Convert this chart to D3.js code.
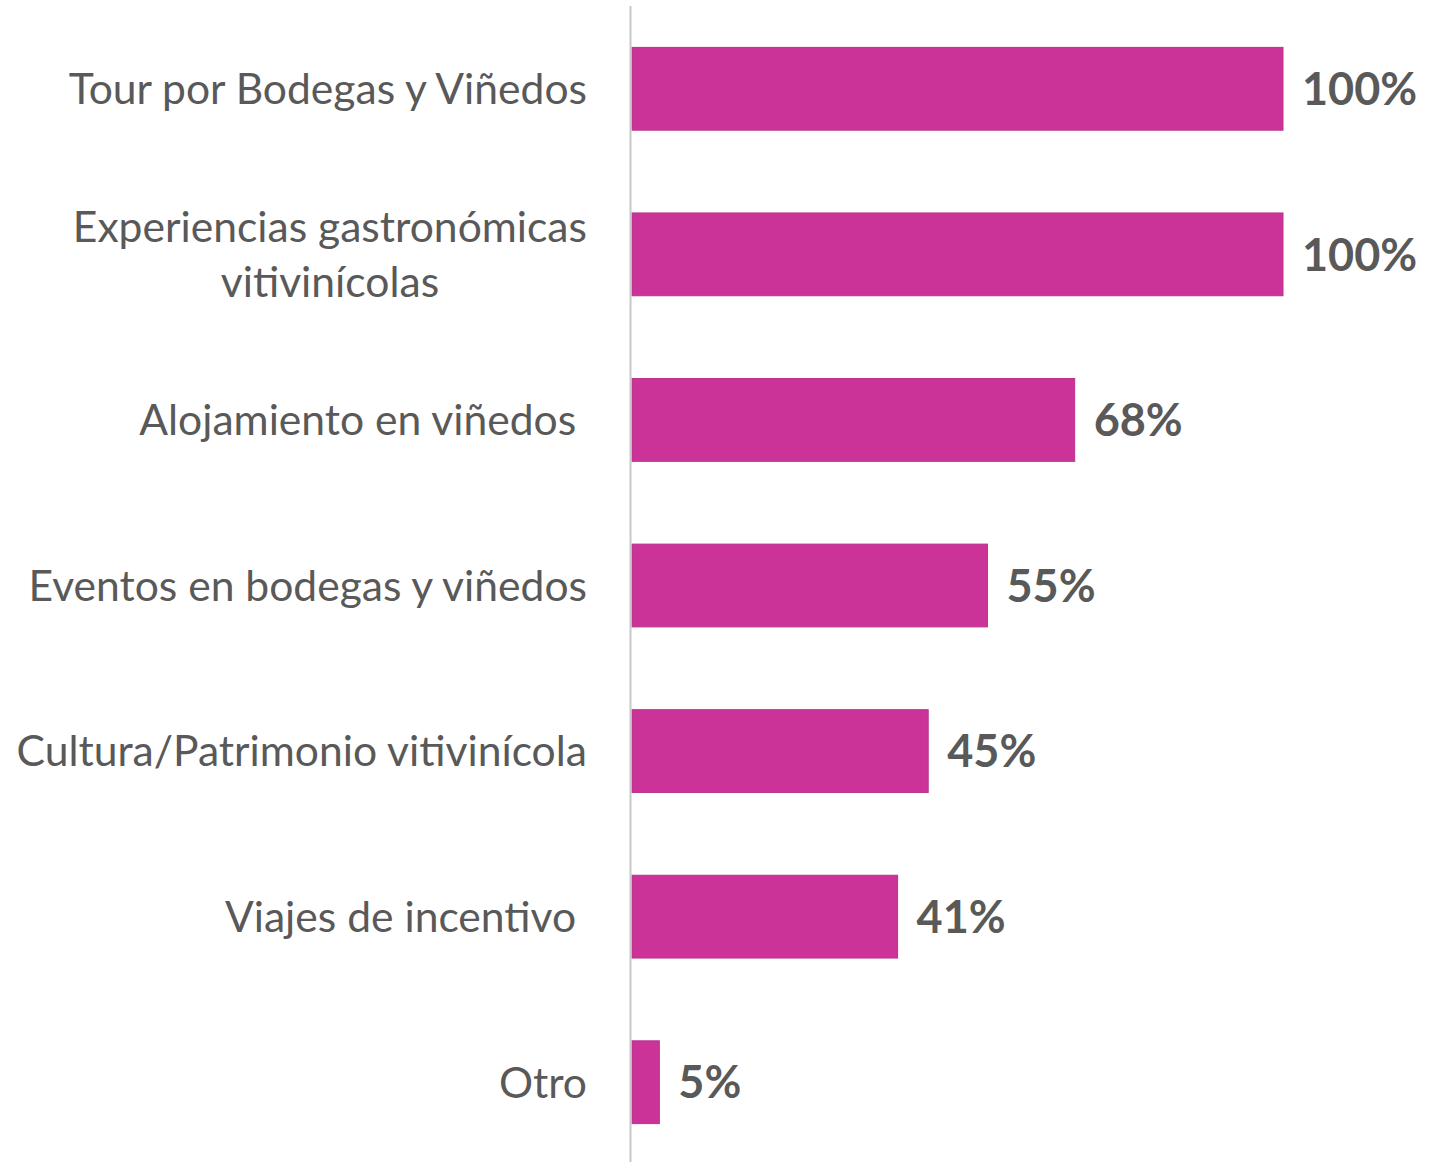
<!DOCTYPE html>
<html><head><meta charset="utf-8">
<script src="https://cdn.jsdelivr.net/npm/d3@7"></script>
<style>html,body{margin:0;padding:0;background:#fff;} text{white-space:pre;}</style>
</head><body>
<svg id="c" width="1448" height="1162"></svg>
<script>
const categories = [
  ["Tour por Bodegas y Viñedos"],
  ["Experiencias gastronómicas", "vitivinícolas"],
  ["Alojamiento en viñedos "],
  ["Eventos en bodegas y viñedos"],
  ["Cultura/Patrimonio vitivinícola"],
  ["Viajes de incentivo "],
  ["Otro"]
];
const values = [100, 100, 68, 54.6, 45.5, 40.8, 4.2];
const valueLabels = ["100%", "100%", "68%", "55%", "45%", "41%", "5%"];

const svg = d3.select("#c");
const x0 = 632, x1 = 1283;
const x = d3.scaleLinear().domain([0, 100]).range([x0, x1]);
const y = d3.scaleBand().domain(d3.range(categories.length)).range([6, 1165]).paddingInner(0.5).paddingOuter(0.25);

svg.selectAll("rect.bar").data(values).join("rect")
  .attr("class", "bar")
  .attr("x", x(0)).attr("y", (d, i) => y(i))
  .attr("width", d => x(d) - x(0)).attr("height", y.bandwidth())
  .attr("fill", "#CC3399").attr("stroke", "#b8338c").attr("stroke-width", 1);

svg.append("line").attr("x1", 630.5).attr("x2", 630.5).attr("y1", 6).attr("y2", 1162)
  .attr("stroke", "#c8c8c8").attr("stroke-width", 2);

svg.selectAll("text.val").data(values).join("text")
  .attr("class", "val")
  .attr("x", d => x(d) + 19).attr("y", (d, i) => y(i) + y.bandwidth() / 2)
  .attr("dy", "0.36em")
  .attr("font-family", "Lato, 'Open Sans', sans-serif").attr("font-weight", "bold")
  .attr("font-size", 45).attr("fill", "#595959")
  .text((d, i) => valueLabels[i]);

const labelRight = 587, lineH = 55;
categories.forEach((lines, i) => {
  const cy = y(i) + y.bandwidth() / 2;
  const g = svg.append("g");
  const n = lines.length;
  const texts = lines.map((t, k) => g.append("text")
    .attr("y", cy + (k - (n - 1) / 2) * lineH).attr("dy", "0.36em")
    .attr("font-family", "Lato, 'Open Sans', sans-serif").attr("font-size", 42.6)
    .attr("fill", "#595959").attr("text-anchor", "middle").text(t));
  const widths = texts.map(t => t.node().getComputedTextLength());
  const maxW = d3.max(widths);
  const center = labelRight - maxW / 2;
  texts.forEach(t => t.attr("x", center));
});
</script>
</body></html>
